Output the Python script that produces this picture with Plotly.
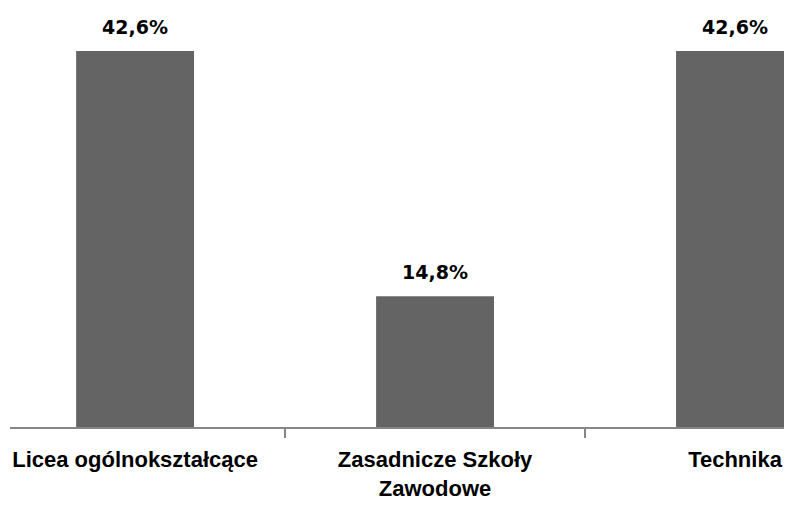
import plotly.graph_objects as go

categories = ["Licea ogólnokształcące", "Zasadnicze Szkoły<br>Zawodowe", "Technika"]
values = [42.6, 14.8, 42.6]
labels = ["42,6%", "14,8%", "42,6%"]

fig = go.Figure(go.Bar(
    x=categories,
    y=values,
    marker=dict(color="#646464", line=dict(width=0)),
    width=0.393,
))

for c, v, t in zip(categories, values, labels):
    fig.add_annotation(
        x=c, y=v, text=t, showarrow=False,
        yanchor="bottom", yshift=11,
        font=dict(family="DejaVu Sans", size=19, color="#000000", weight="bold"),
    )

fig.update_layout(
    width=784, height=499,
    margin=dict(l=2, r=0, t=0, b=80),
    plot_bgcolor="white", paper_bgcolor="white",
    showlegend=False,
    xaxis=dict(
        type="category",
        range=[-0.417, 2.19],
        automargin=False,
        showgrid=False, zeroline=False,
        showline=True, linecolor="#868686", linewidth=2,
        ticks="outside", ticklen=9, tickcolor="#868686", tickwidth=2,
        tickson="boundaries",
        ticklabelstandoff=12,
        tickfont=dict(family="Liberation Sans", size=22, color="#000000", weight="bold"),
    ),
    yaxis=dict(range=[0, 47.46], visible=False, showgrid=False, automargin=False),
)

fig.write_html("out.html")
